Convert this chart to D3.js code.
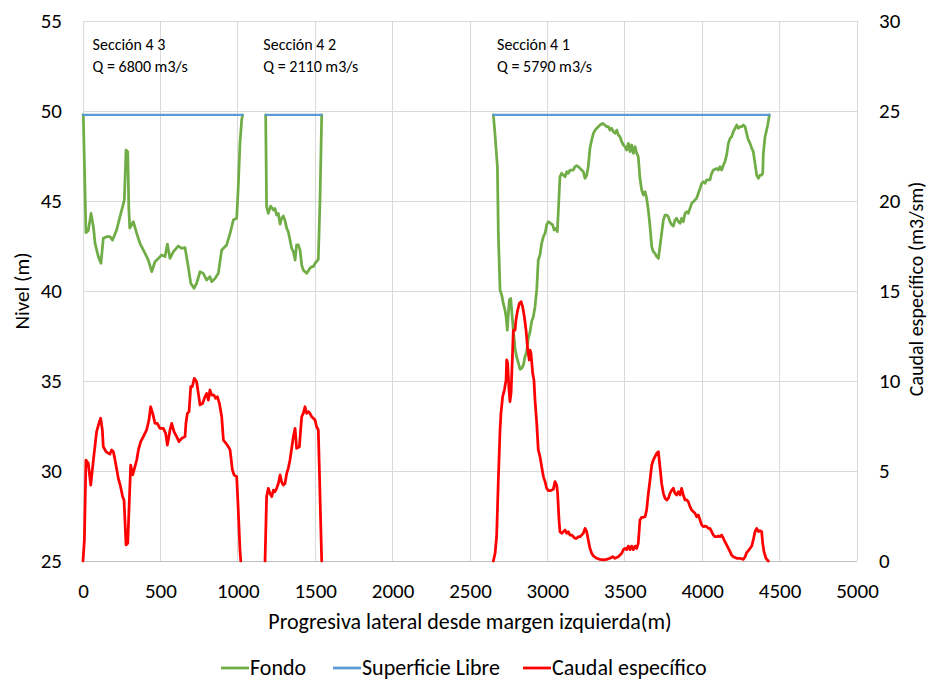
<!DOCTYPE html>
<html>
<head>
<meta charset="utf-8">
<script src="https://cdn.jsdelivr.net/npm/d3@7/dist/d3.min.js"></script>
<style>
  html, body { margin: 0; padding: 0; background: #ffffff; }
  svg { display: block; font-family: Carlito, Calibri, Lato, sans-serif; }
</style>
</head>
<body>
<svg id="chart" width="932" height="682"></svg>
<script>
// ---- Data ----------------------------------------------------------------
// Bed profile (m) per section: [lateral distance (m), level (m)]
const fondo43 = [[0,49.78],[2,49.78],[19,43.24],[34,43.35],[52,44.31],[67,43.57],[78,42.65],[99,41.91],[116,41.54],[131,42.93],[153,43.02],[174,43.02],[191,42.83],[217,43.39],[239,44.13],[256,44.69],[267,45.06],[278,47.83],[289,47.74],[296,44.6],[302,43.5],[325,43.85],[347,43.2],[368,42.65],[401,42.09],[422,41.72],[444,41.07],[465,41.63],[487,41.81],[508,42.0],[530,41.91],[545,42.61],[562,41.81],[584,42.19],[616,42.5],[637,42.37],[659,42.41],[680,41.35],[696,40.43],[717,40.15],[734,40.43],[756,41.07],[777,40.98],[799,40.61],[820,40.8],[831,40.52],[853,40.7],[874,40.98],[896,42.28],[928,42.56],[950,43.2],[971,43.94],[993,44.04],[1003,45.8],[1014,48.2],[1025,49.5],[1031,49.78]];
const fondo42 = [[1180,49.78],[1186,44.69],[1197,44.31],[1212,44.72],[1230,44.5],[1240,44.59],[1251,44.22],[1262,44.31],[1273,43.72],[1283,44.04],[1294,44.17],[1305,43.91],[1316,43.48],[1326,43.3],[1337,42.83],[1348,42.37],[1359,42.19],[1370,41.72],[1380,42.56],[1391,42.56],[1402,42.28],[1413,41.44],[1423,41.17],[1434,41.07],[1445,40.98],[1456,41.13],[1466,41.26],[1477,41.35],[1488,41.35],[1499,41.54],[1520,41.76],[1531,45.06],[1542,49.78]];
const fondo41 = [[2651,49.78],[2661,48.76],[2677,46.91],[2683,43.2],[2694,40.06],[2705,39.78],[2715,39.31],[2726,38.94],[2733,38.57],[2741,37.83],[2748,38.76],[2754,39.5],[2763,39.59],[2769,38.94],[2780,37.83],[2791,36.81],[2801,36.35],[2819,35.8],[2823,35.65],[2834,35.7],[2845,35.89],[2855,36.35],[2866,36.63],[2877,37.37],[2888,37.74],[2898,38.3],[2909,38.57],[2920,39.13],[2931,40.06],[2941,41.72],[2952,42.0],[2963,42.65],[2974,43.02],[2985,43.2],[2995,43.67],[3006,43.85],[3021,43.76],[3034,43.67],[3043,43.39],[3056,43.48],[3064,43.3],[3071,44.5],[3081,46.35],[3092,46.54],[3103,46.44],[3114,46.35],[3125,46.63],[3135,46.54],[3146,46.72],[3168,46.72],[3178,46.91],[3189,46.96],[3200,46.91],[3211,46.81],[3221,46.72],[3232,46.63],[3243,46.26],[3254,46.44],[3264,46.91],[3275,47.93],[3286,48.39],[3297,48.76],[3308,48.94],[3318,49.04],[3329,49.13],[3340,49.22],[3357,49.31],[3372,49.22],[3383,49.13],[3394,49.13],[3404,48.94],[3415,49.04],[3426,48.85],[3437,48.76],[3448,48.94],[3458,48.67],[3469,48.57],[3480,48.3],[3491,48.11],[3501,48.02],[3512,47.83],[3523,48.2],[3534,47.74],[3544,48.11],[3555,47.65],[3566,48.02],[3577,47.65],[3587,47.46],[3598,46.26],[3609,45.61],[3620,45.33],[3631,45.52],[3641,45.15],[3652,44.5],[3663,43.57],[3674,42.46],[3684,42.19],[3695,42.09],[3706,41.91],[3717,41.81],[3727,42.46],[3738,43.2],[3749,43.94],[3760,44.22],[3771,44.22],[3781,44.13],[3792,43.85],[3803,43.67],[3814,43.61],[3824,43.94],[3835,44.04],[3846,43.85],[3857,43.76],[3867,44.04],[3878,43.85],[3889,44.31],[3900,44.41],[3910,44.31],[3921,44.59],[3932,44.87],[3943,44.96],[3954,45.06],[3964,45.15],[3975,45.43],[3986,45.7],[3997,45.98],[4007,46.07],[4018,45.98],[4029,46.17],[4050,46.17],[4061,46.54],[4072,46.72],[4094,46.81],[4104,46.72],[4115,46.91],[4126,46.72],[4137,47.0],[4147,47.19],[4158,47.56],[4169,48.2],[4180,48.48],[4190,48.57],[4201,48.85],[4212,49.04],[4223,49.22],[4233,49.04],[4244,49.13],[4255,49.13],[4266,49.22],[4277,49.13],[4287,48.76],[4298,48.39],[4309,48.2],[4320,47.93],[4330,47.74],[4341,47.09],[4352,46.44],[4363,46.26],[4373,46.44],[4384,46.44],[4391,46.54],[4395,47.65],[4406,48.57],[4416,48.94],[4423,49.22],[4434,49.78]];

// Free water surface (m): one level per section, between its banks
const superficie = [
  { desde: 0,    hasta: 1031, nivel: 49.78 },
  { desde: 1180, hasta: 1542, nivel: 49.78 },
  { desde: 2651, hasta: 4434, nivel: 49.78 }
];

// Specific discharge (m3/s/m) per section: [lateral distance (m), q]
const caudal43 = [[0,0],[9,1.17],[19,5.61],[34,5.43],[50,4.22],[67,5.61],[78,6.44],[88,7.19],[106,7.74],[114,7.93],[125,7.28],[131,6.35],[149,6.07],[164,5.98],[174,5.94],[185,6.17],[196,6.07],[207,5.61],[228,4.59],[243,4.13],[256,3.57],[265,3.39],[278,0.89],[289,0.98],[297,2.83],[308,5.33],[321,4.78],[330,5.06],[347,5.61],[358,6.17],[373,6.63],[390,6.91],[411,7.28],[426,7.83],[437,8.57],[450,8.2],[465,7.65],[480,7.65],[497,7.37],[519,7.37],[534,7.09],[545,6.44],[562,7.28],[573,7.65],[588,7.19],[605,6.91],[620,6.63],[637,6.81],[659,6.91],[665,7.65],[674,8.2],[685,8.3],[696,9.69],[706,9.69],[719,10.15],[734,9.96],[745,9.31],[756,8.67],[773,8.76],[788,9.13],[799,9.31],[810,8.94],[820,9.5],[831,9.22],[846,9.22],[857,9.04],[868,9.13],[881,8.76],[896,8.02],[907,6.72],[924,6.54],[939,6.35],[950,6.17],[965,5.06],[976,4.78],[993,4.69],[1003,2.83],[1014,0.61],[1019,0]];
const caudal42 = [[1176,0],[1186,3.57],[1197,4.04],[1208,3.76],[1219,3.57],[1230,3.94],[1240,3.85],[1251,4.04],[1262,4.31],[1273,4.78],[1283,4.4],[1294,4.22],[1305,4.31],[1316,4.87],[1326,5.15],[1337,5.61],[1348,6.26],[1359,6.91],[1370,7.37],[1380,6.26],[1398,6.35],[1406,7.28],[1413,8.02],[1423,8.2],[1434,8.57],[1445,8.2],[1456,8.3],[1466,8.2],[1477,8.02],[1488,7.93],[1499,7.83],[1509,7.46],[1520,7.28],[1527,5.06],[1535,2.28],[1542,0]];
const caudal41 = [[2651,0],[2662,0.43],[2672,1.35],[2683,4.5],[2694,7.28],[2700,8.2],[2711,9.13],[2722,9.5],[2733,10.06],[2737,11.17],[2743,11.0],[2752,9.5],[2758,8.85],[2765,9.31],[2774,11.35],[2780,12.83],[2791,12.83],[2797,13.39],[2808,13.94],[2819,14.31],[2830,14.41],[2840,14.13],[2851,13.57],[2862,12.83],[2873,11.72],[2883,11.17],[2888,11.72],[2894,11.54],[2905,10.43],[2913,10.06],[2920,8.94],[2931,7.65],[2941,6.17],[2952,5.8],[2963,5.24],[2974,4.69],[2985,4.41],[2995,4.04],[3006,3.91],[3021,3.91],[3038,3.98],[3049,4.41],[3060,4.22],[3066,3.76],[3075,2.28],[3081,1.63],[3092,1.54],[3103,1.63],[3114,1.72],[3125,1.54],[3135,1.63],[3146,1.44],[3157,1.44],[3168,1.35],[3178,1.26],[3189,1.26],[3200,1.35],[3211,1.35],[3221,1.44],[3232,1.54],[3243,1.81],[3254,1.63],[3264,1.17],[3275,0.7],[3286,0.43],[3297,0.28],[3318,0.15],[3340,0.09],[3361,0.06],[3383,0.09],[3404,0.15],[3422,0.24],[3437,0.15],[3458,0.24],[3480,0.43],[3491,0.63],[3501,0.7],[3512,0.63],[3523,0.83],[3534,0.63],[3544,0.83],[3555,0.63],[3566,0.83],[3577,0.7],[3587,0.98],[3598,2.28],[3609,2.43],[3620,2.43],[3631,2.46],[3641,2.83],[3652,3.76],[3663,4.5],[3674,5.33],[3684,5.61],[3695,5.8],[3706,5.98],[3717,6.07],[3727,5.24],[3738,4.31],[3749,3.76],[3760,3.48],[3771,3.39],[3781,3.48],[3792,3.76],[3803,3.94],[3814,4.04],[3824,3.76],[3835,3.67],[3846,3.85],[3857,3.67],[3867,4.04],[3878,3.67],[3889,3.39],[3900,3.39],[3910,3.3],[3921,3.02],[3932,2.83],[3943,2.74],[3954,2.65],[3964,2.46],[3975,2.56],[3986,2.28],[3997,2.0],[4007,1.91],[4018,1.94],[4029,1.91],[4040,1.81],[4050,1.81],[4061,1.63],[4072,1.44],[4083,1.35],[4094,1.35],[4104,1.39],[4115,1.35],[4126,1.44],[4137,1.26],[4147,1.07],[4158,0.89],[4169,0.7],[4180,0.52],[4190,0.33],[4201,0.24],[4223,0.15],[4244,0.15],[4266,0.09],[4277,0.24],[4287,0.46],[4298,0.57],[4309,0.7],[4320,0.83],[4330,1.17],[4341,1.63],[4352,1.81],[4363,1.63],[4373,1.69],[4384,1.63],[4391,0.98],[4399,0.52],[4412,0.15],[4427,0]];

// Section names and discharges
const secciones = ["Sección 4 3", "Sección 4 2", "Sección 4 1"];
const caudales = [6800, 2110, 5790];

// Axis ticks
const xTicks = [0, 500, 1000, 1500, 2000, 2500, 3000, 3500, 4000, 4500, 5000];
const nivelTicks = [25, 30, 35, 40, 45, 50, 55];
const caudalTicks = [0, 5, 10, 15, 20, 25, 30];

// Series names for the legend
const serieNombres = ["Fondo", "Superficie Libre", "Caudal específico"];

// ---- Drawing -------------------------------------------------------------
const svg = d3.select("#chart");
const plot = { left: 83, right: 857, top: 21, bottom: 561 };
const colors = { fondo: "#70AD47", sup: "#5B9BD5", caudal: "#FF0000", grid: "#D9D9D9", text: "#000000" };
const FONT = "Carlito, Calibri, Lato, sans-serif";

const x = d3.scaleLinear().domain([0, 5000]).range([plot.left, plot.right]);
const yNivel = d3.scaleLinear().domain([25, 55]).range([plot.bottom, plot.top]);
const yCaudal = d3.scaleLinear().domain([0, 30]).range([plot.bottom, plot.top]);

// gridlines
const grid = svg.append("g");
grid.selectAll("line.h").data(nivelTicks).join("line")
  .attr("x1", plot.left).attr("x2", plot.right)
  .attr("y1", d => yNivel(d)).attr("y2", d => yNivel(d))
  .attr("stroke", colors.grid).attr("stroke-width", 1).attr("shape-rendering", "crispEdges");
grid.selectAll("line.v").data(xTicks).join("line")
  .attr("x1", d => x(d)).attr("x2", d => x(d))
  .attr("y1", plot.top).attr("y2", plot.bottom)
  .attr("stroke", colors.grid).attr("stroke-width", 1).attr("shape-rendering", "crispEdges");

// axes
const tickSize = 21;
const xAxis = svg.append("g").attr("transform", `translate(0,${plot.bottom})`)
  .call(d3.axisBottom(x).tickValues(xTicks).tickSize(0).tickPadding(22).tickFormat(d3.format("d")));
const yAxisL = svg.append("g").attr("transform", `translate(${plot.left},0)`)
  .call(d3.axisLeft(yNivel).tickValues(nivelTicks).tickSize(0).tickPadding(21).tickFormat(d3.format("d")));
const yAxisR = svg.append("g").attr("transform", `translate(${plot.right},0)`)
  .call(d3.axisRight(yCaudal).tickValues(caudalTicks).tickSize(0).tickPadding(22).tickFormat(d3.format("d")));
[xAxis, yAxisL, yAxisR].forEach(g => {
  g.select(".domain").remove();
  g.selectAll("text").attr("font-size", tickSize).attr("fill", colors.text).attr("font-family", FONT);
});
svg.append("line")
  .attr("x1", plot.left).attr("x2", plot.right)
  .attr("y1", plot.bottom).attr("y2", plot.bottom)
  .attr("stroke", "#BFBFBF").attr("stroke-width", 1).attr("shape-rendering", "crispEdges");

// axis titles
svg.append("text")
  .attr("x", 470).attr("y", 629)
  .attr("text-anchor", "middle").attr("font-size", 22).text("Progresiva lateral desde margen izquierda(m)");
svg.append("text")
  .attr("transform", `translate(29,291) rotate(-90)`)
  .attr("text-anchor", "middle").attr("font-size", 21).text("Nivel (m)");
svg.append("text")
  .attr("transform", `translate(923,289) rotate(-90)`)
  .attr("text-anchor", "middle").attr("font-size", 20).text("Caudal específico (m3/sm)");

// series
const lineNivel = d3.line().x(d => x(d[0])).y(d => yNivel(d[1]));
const lineCaudal = d3.line().x(d => x(d[0])).y(d => yCaudal(d[1]));

[fondo43, fondo42, fondo41].forEach(s => {
  svg.append("path").datum(s).attr("d", lineNivel)
    .attr("fill", "none").attr("stroke", colors.fondo).attr("stroke-width", 2.75)
    .attr("stroke-linejoin", "round").attr("stroke-linecap", "round");
});
svg.selectAll("line.sup").data(superficie).join("line")
  .attr("x1", d => x(d.desde)).attr("x2", d => x(d.hasta))
  .attr("y1", d => yNivel(d.nivel)).attr("y2", d => yNivel(d.nivel))
  .attr("stroke", colors.sup).attr("stroke-width", 2.25).attr("stroke-linecap", "round");
[caudal43, caudal42, caudal41].forEach(s => {
  svg.append("path").datum(s).attr("d", lineCaudal)
    .attr("fill", "none").attr("stroke", colors.caudal).attr("stroke-width", 2.75)
    .attr("stroke-linejoin", "round").attr("stroke-linecap", "round");
});

// section annotations
const rotuloX = [62, 1165, 2675];
secciones.forEach((s, i) => {
  const t = svg.append("text").attr("x", x(rotuloX[i])).attr("y", 50)
    .attr("font-size", 16).attr("fill", colors.text);
  t.append("tspan").attr("x", x(rotuloX[i])).attr("dy", 0).text(s);
  t.append("tspan").attr("x", x(rotuloX[i])).attr("dy", 22).text(`Q = ${caudales[i]} m3/s`);
});

// legend
const legendColors = [colors.fondo, colors.sup, colors.caudal];
const legendX = [221, 333, 523];
const legend = svg.append("g").attr("transform", "translate(0,668)");
serieNombres.forEach((n, i) => {
  legend.append("line").attr("x1", legendX[i]).attr("x2", legendX[i] + 28)
    .attr("y1", 0).attr("y2", 0).attr("stroke", legendColors[i]).attr("stroke-width", 2.75);
  legend.append("text").attr("x", legendX[i] + 29).attr("y", 7)
    .attr("font-size", 22).attr("fill", colors.text).text(n);
});
</script>
</body>
</html>
